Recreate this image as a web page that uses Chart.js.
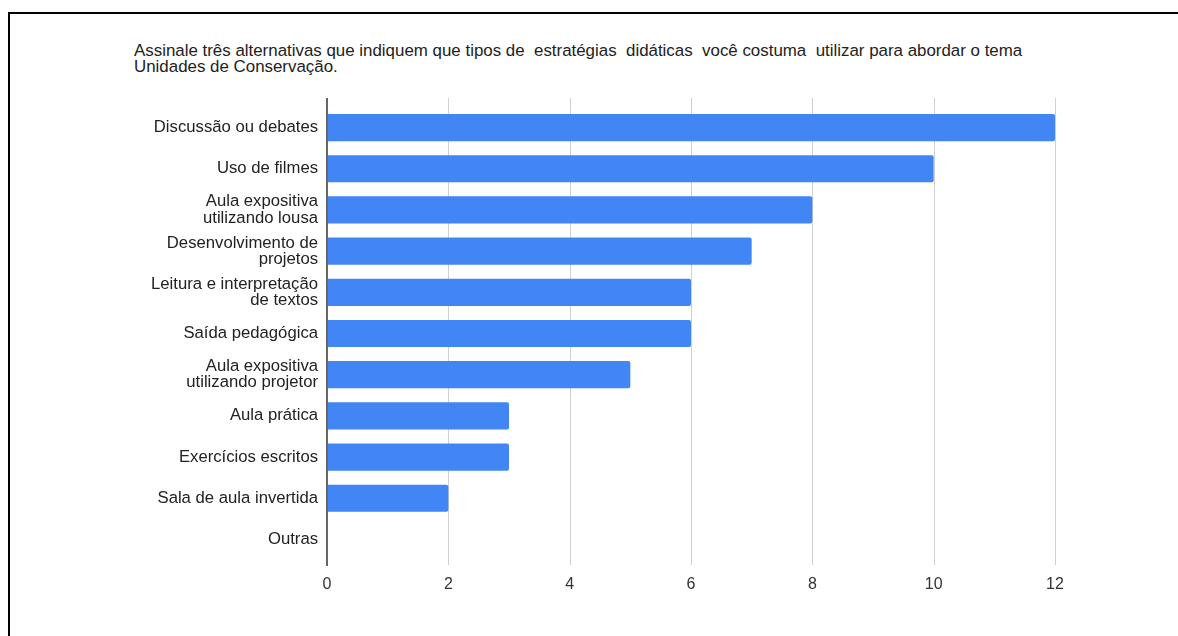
<!DOCTYPE html>
<html>
<head>
<meta charset="utf-8">
<script src="https://cdn.jsdelivr.net/npm/chart.js@4"></script>
<style>
  html, body { margin:0; padding:0; background:#fff; }
  #wrap { position:relative; width:1178px; height:636px; overflow:hidden; }
  #frame { position:absolute; left:8px; top:12px; width:1178px; height:640px;
           border-left:2px solid #000; border-top:2px solid #000; box-sizing:border-box; }
  #title { position:absolute; left:134px; top:43px; font-family:"Liberation Sans", Arial, sans-serif;
           font-size:16.9px; line-height:16px; color:#222; white-space:pre; }
  #c { position:absolute; left:0; top:0; }
</style>
</head>
<body>
<div id="wrap">
  <div id="frame"></div>
  <div id="title">Assinale três alternativas que indiquem que tipos de  estratégias  didáticas  você costuma  utilizar para abordar o tema
Unidades de Conservação.</div>
  <canvas id="c" width="1178" height="636"></canvas>
</div>
<script>
// categories (multi-line labels as arrays)
const categories = [
  "Discussão ou debates",
  "Uso de filmes",
  ["Aula expositiva", "utilizando lousa"],
  ["Desenvolvimento de", "projetos"],
  ["Leitura e interpretação", "de textos"],
  "Saída pedagógica",
  ["Aula expositiva", "utilizando projetor"],
  "Aula prática",
  "Exercícios escritos",
  "Sala de aula invertida",
  "Outras"
];
const counts = [12, 10, 8, 7, 6, 6, 5, 3, 3, 2, 0];
const xTicks = [0, 2, 4, 6, 8, 10, 12];

const FONT = '"Liberation Sans", Arial, sans-serif';

// grid lines and y-axis line run a bit past the plot area (top & bottom)
const extendLines = {
  id: 'extendLines',
  beforeDatasetsDraw(chart){
    const {ctx, chartArea:a, scales:{x}} = chart;
    ctx.save();
    ctx.lineWidth = 1;
    ctx.strokeStyle = '#d0d0d0';
    xTicks.forEach(v=>{
      if(v===0) return;
      const px = Math.round(x.getPixelForValue(v)) + 0.5;
      ctx.beginPath(); ctx.moveTo(px, a.top-9); ctx.lineTo(px, a.bottom+5); ctx.stroke();
    });
    ctx.restore();
  },
  afterDatasetsDraw(chart){
    const {ctx, chartArea:a, scales:{x}} = chart;
    ctx.save();
    ctx.lineWidth = 2;
    ctx.strokeStyle = '#666';
    const px = Math.round(x.getPixelForValue(0));
    ctx.beginPath(); ctx.moveTo(px, a.top-9); ctx.lineTo(px, a.bottom+6); ctx.stroke();
    ctx.restore();
  }
};

new Chart(document.getElementById('c'), {
  type: 'bar',
  data: {
    labels: categories,
    datasets: [{
      data: counts,
      backgroundColor: '#4285f4',
      borderRadius: 2,
      borderSkipped: 'start',
      barPercentage: 0.66,
      categoryPercentage: 1.0
    }]
  },
  options: {
    indexAxis: 'y',
    responsive: false,
    animation: false,
    layout: { padding: { top: 107, right: 123, left: 0, bottom: 0 } },
    plugins: { legend: { display:false }, tooltip: { enabled:false } },
    scales: {
      x: {
        min: 0, max: 12,
        afterBuildTicks(s){ s.ticks = xTicks.map(v=>({value:v})); },
        afterFit(s){ s.height = 76; },
        grid: { display:false },
        border: { display:false },
        ticks: { color:'#333', font:{ family:FONT, size:16 }, padding:7 }
      },
      y: {
        afterFit(s){ s.width = 327; },
        grid: { display:false, drawTicks:false },
        border: { display:false },
        ticks: { color:'#222', font:{ family:FONT, size:16.7, lineHeight:0.97 }, padding:9 }
      }
    }
  },
  plugins: [extendLines]
});
</script>
</body>
</html>
